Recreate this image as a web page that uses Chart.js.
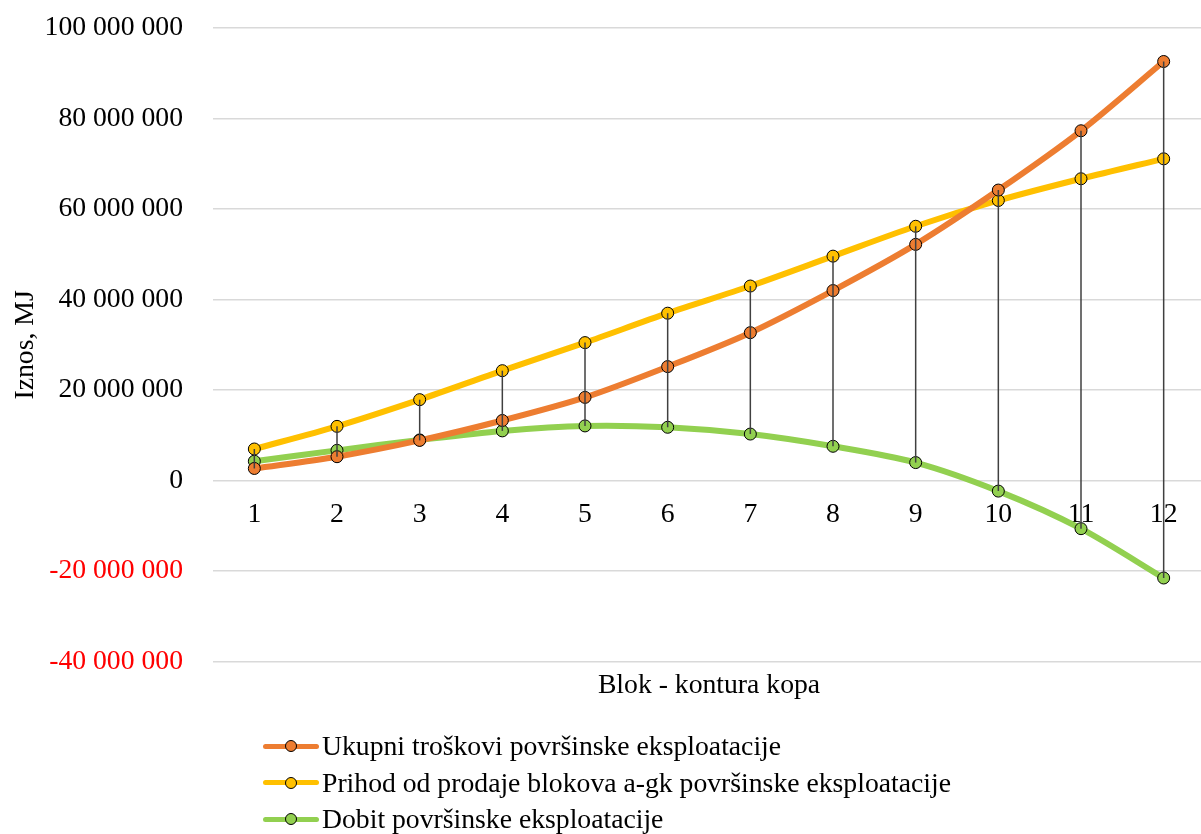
<!DOCTYPE html>
<html>
<head>
<meta charset="utf-8">
<script src="https://cdn.jsdelivr.net/npm/chart.js@4/dist/chart.umd.min.js"></script>
<style>
  html, body { margin: 0; padding: 0; background: #fff; overflow: hidden; }
  #wrap { position: absolute; left: 0; top: 0; width: 1212px; height: 834px; }
  #legend { position: absolute; left: 263px; top: 728px; font-family: "Liberation Serif", serif; font-size: 27.7px; color: #000; }
  .row { height: 36.5px; line-height: 36.5px; white-space: nowrap; display: flex; align-items: center; }
  .sym { position: relative; width: 56px; height: 36px; margin-right: 3px; flex: none; }
  .sym .ln { position: absolute; left: 0; right: 0; top: 15.5px; height: 5px; border-radius: 2.5px; }
  .sym .dot { position: absolute; left: 22px; top: 12px; width: 10px; height: 10px; border: 1px solid #000; border-radius: 50%; }
</style>
</head>
<body>
<div id="wrap"><canvas id="chart" width="1212" height="834"></canvas></div>
<div id="legend"></div>
<script>
"use strict";

// kategorije i vrijednosti (MJ)
const blocks = ['1', '2', '3', '4', '5', '6', '7', '8', '9', '10', '11', '12'];
const troskovi = [2700000, 5300000, 8900000, 13300000, 18400000, 25200000, 32700000, 42000000, 52200000, 64200000, 77300000, 92600000];
const prihod = [7000000, 12000000, 17900000, 24300000, 30500000, 37000000, 43000000, 49600000, 56200000, 61900000, 66700000, 71100000];
const dobit = [4300000, 6700000, 9000000, 11000000, 12100000, 11800000, 10300000, 7600000, 4000000, -2300000, -10600000, -21500000];
const seriesNames = ['Ukupni troškovi površinske eksploatacije', 'Prihod od prodaje blokova a-gk površinske eksploatacije', 'Dobit površinske eksploatacije'];
const seriesColors = ['#ED7D31', '#FFC000', '#92D050'];

const fontFamily = '"Liberation Serif", "Times New Roman", serif';
const fontSize = 27.7;

const fmt = (v) => String(v).replace(/\B(?=(\d{3})+(?!\d))/g, ' ');

// vertikalne linije (high-low) između serija
const dropLines = {
    id: 'dropLines',
    afterDatasetsDraw(chart) {
        const ctx = chart.ctx;
        const metas = chart.data.datasets.map((d, i) => chart.getDatasetMeta(i));
        ctx.save();
        ctx.strokeStyle = '#404040';
        ctx.lineWidth = 1.5;
        blocks.forEach((b, i) => {
            const ys = metas.map(m => m.data[i].y);
            const x = metas[0].data[i].x;
            ctx.beginPath();
            ctx.moveTo(x, Math.min(...ys));
            ctx.lineTo(x, Math.max(...ys));
            ctx.stroke();
        });
        ctx.restore();
    }
};

const makeSet = (label, data, color) => ({
    label,
    data,
    borderColor: color,
    backgroundColor: color,
    borderWidth: 6,
    tension: 0.3,
    pointRadius: 6,
    pointHoverRadius: 6,
    pointBackgroundColor: color,
    pointBorderColor: '#000',
    pointBorderWidth: 1,
    fill: false
});

new Chart(document.getElementById('chart'), {
    type: 'line',
    data: {
        labels: blocks,
        datasets: [
            makeSet(seriesNames[0], troskovi, seriesColors[0]),
            makeSet(seriesNames[1], prihod, seriesColors[1]),
            makeSet(seriesNames[2], dobit, seriesColors[2])
        ]
    },
    options: {
        responsive: false,
        animation: false,
        layout: { padding: { top: 28, right: 0, bottom: 132, left: 0 } },
        plugins: {
            legend: { display: false },
            tooltip: { enabled: false },
            title: {
                display: true,
                text: 'Blok - kontura kopa',
                position: 'bottom',
                fullSize: false,
                weight: 500,
                color: '#000',
                font: { family: fontFamily, size: fontSize, weight: 'normal' },
                padding: { top: 7, bottom: 0 }
            }
        },
        scales: {
            x: {
                position: { y: 0 },
                offset: true,
                grid: { display: false },
                border: { display: false },
                afterFit: (scale) => { scale.paddingTop = 0; scale.paddingBottom = 0; },
                ticks: {
                    color: '#000',
                    padding: 9,
                    maxRotation: 0,
                    font: { family: fontFamily, size: fontSize }
                }
            },
            y: {
                min: -40000000,
                max: 100000000,
                afterFit: (scale) => { scale.width = 213; scale.paddingTop = 0; scale.paddingBottom = 0; },
                grid: { color: '#D9D9D9', lineWidth: 1.5, drawTicks: false },
                border: { display: false },
                ticks: {
                    stepSize: 20000000,
                    padding: 30,
                    font: { family: fontFamily, size: fontSize },
                    color: (c) => (c.tick && c.tick.value < 0 ? '#FF0000' : '#000'),
                    callback: (v) => fmt(v)
                },
                title: {
                    display: true,
                    text: 'Iznos, MJ',
                    color: '#000',
                    font: { family: fontFamily, size: fontSize },
                    padding: { top: 9, bottom: 0 }
                }
            }
        }
    },
    plugins: [dropLines]
});

// legenda ispod grafikona
const legend = document.getElementById('legend');
seriesNames.forEach((name, i) => {
    const row = document.createElement('div');
    row.className = 'row';
    row.innerHTML = `<span class="sym"><span class="ln" style="background:${seriesColors[i]}"></span><span class="dot" style="background:${seriesColors[i]}"></span></span><span>${name}</span>`;
    legend.appendChild(row);
});
</script>
</body>
</html>
